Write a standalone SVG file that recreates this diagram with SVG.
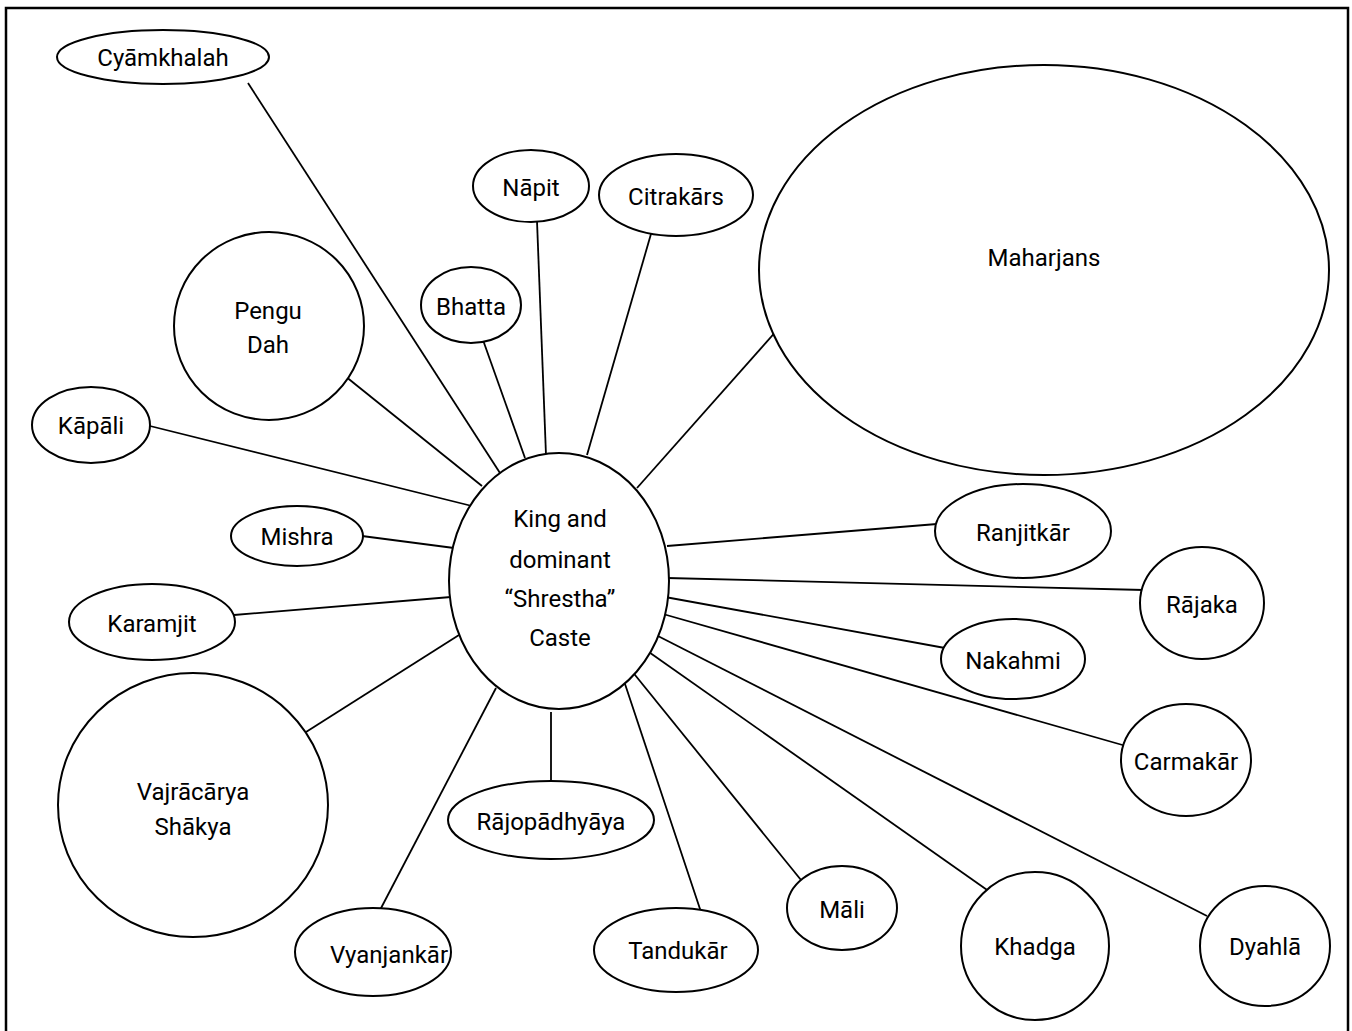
<svg xmlns="http://www.w3.org/2000/svg" width="1352" height="1031" viewBox="0 0 1352 1031">
<style>
.n ellipse{fill:#fff;stroke:#000;stroke-width:2}
.n text{font-family:Roboto,"Noto Sans",sans-serif;font-size:24px;text-anchor:middle;fill:#000}
#edges line{stroke:#000;stroke-width:1.8}
</style>
<rect x="6" y="8" width="1342" height="1040" fill="#fff" stroke="#000" stroke-width="2.5"/>
<g id="edges">
<line x1="248" y1="83" x2="500" y2="473"/>
<line x1="345" y1="376" x2="482" y2="486"/>
<line x1="150" y1="426" x2="480" y2="508"/>
<line x1="362" y1="536" x2="454" y2="548"/>
<line x1="234" y1="615" x2="451" y2="597"/>
<line x1="306" y1="732" x2="459" y2="635"/>
<line x1="379" y1="912" x2="496" y2="688"/>
<line x1="551" y1="782" x2="551" y2="712"/>
<line x1="701" y1="912" x2="625" y2="684"/>
<line x1="801" y1="880" x2="631" y2="670"/>
<line x1="990" y1="892" x2="646" y2="650"/>
<line x1="1207" y1="916" x2="654" y2="634"/>
<line x1="1126" y1="746" x2="663" y2="614"/>
<line x1="945" y1="648" x2="665" y2="597"/>
<line x1="1144" y1="590" x2="667" y2="578"/>
<line x1="937" y1="524" x2="667" y2="546"/>
<line x1="786" y1="320" x2="637" y2="488"/>
<line x1="653" y1="227" x2="587" y2="455"/>
<line x1="537" y1="221" x2="546" y2="455"/>
<line x1="483" y1="340" x2="525" y2="458"/>
</g>
<g id="center" class="n"><ellipse cx="559" cy="581" rx="110" ry="128"/><text x="560" y="527">King and</text><text x="560" y="568">dominant</text><text x="560" y="607">“Shrestha”</text><text x="560" y="646">Caste</text></g>
<g id="cyamkhalah" class="n"><ellipse cx="163" cy="57" rx="106" ry="27"/><text x="163" y="66">Cyāmkhalah</text></g>
<g id="pengu" class="n"><ellipse cx="269" cy="326" rx="95" ry="94"/><text x="268" y="319">Pengu</text><text x="268" y="353">Dah</text></g>
<g id="kapali" class="n"><ellipse cx="91" cy="425" rx="59" ry="38"/><text x="91" y="434">Kāpāli</text></g>
<g id="mishra" class="n"><ellipse cx="297" cy="536" rx="66" ry="30"/><text x="297" y="545">Mishra</text></g>
<g id="karamjit" class="n"><ellipse cx="152" cy="622" rx="83" ry="38"/><text x="152" y="632">Karamjit</text></g>
<g id="vajracarya" class="n"><ellipse cx="193" cy="805" rx="135" ry="132"/><text x="193" y="800">Vajrācārya</text><text x="193" y="835">Shākya</text></g>
<g id="vyanjankar" class="n"><ellipse cx="373" cy="952" rx="78" ry="44"/><text x="389" y="963">Vyanjankār</text></g>
<g id="rajopadhyaya" class="n"><ellipse cx="551" cy="820" rx="103" ry="39"/><text x="551" y="830">Rājopādhyāya</text></g>
<g id="tandukar" class="n"><ellipse cx="676" cy="950" rx="82" ry="42"/><text x="678" y="959">Tandukār</text></g>
<g id="mali" class="n"><ellipse cx="842" cy="908" rx="55" ry="42"/><text x="842" y="918">Māli</text></g>
<g id="khadga" class="n"><ellipse cx="1035" cy="946" rx="74" ry="74"/><text x="1035" y="955">Khadga</text></g>
<g id="dyahla" class="n"><ellipse cx="1265" cy="946" rx="65" ry="60"/><text x="1265" y="955">Dyahlā</text></g>
<g id="carmakar" class="n"><ellipse cx="1186" cy="760" rx="65" ry="56"/><text x="1186" y="770">Carmakār</text></g>
<g id="nakahmi" class="n"><ellipse cx="1013" cy="659" rx="72" ry="40"/><text x="1013" y="669">Nakahmi</text></g>
<g id="rajaka" class="n"><ellipse cx="1202" cy="603" rx="62" ry="56"/><text x="1202" y="613">Rājaka</text></g>
<g id="ranjitkar" class="n"><ellipse cx="1023" cy="531" rx="88" ry="47"/><text x="1023" y="541">Ranjitkār</text></g>
<g id="maharjans" class="n"><ellipse cx="1044" cy="270" rx="285" ry="205"/><text x="1044" y="266">Maharjans</text></g>
<g id="citrakars" class="n"><ellipse cx="676" cy="195" rx="77" ry="41"/><text x="676" y="205">Citrakārs</text></g>
<g id="napit" class="n"><ellipse cx="531" cy="186" rx="58" ry="36"/><text x="531" y="196">Nāpit</text></g>
<g id="bhatta" class="n"><ellipse cx="471" cy="305" rx="50" ry="38"/><text x="471" y="315">Bhatta</text></g>
</svg>
